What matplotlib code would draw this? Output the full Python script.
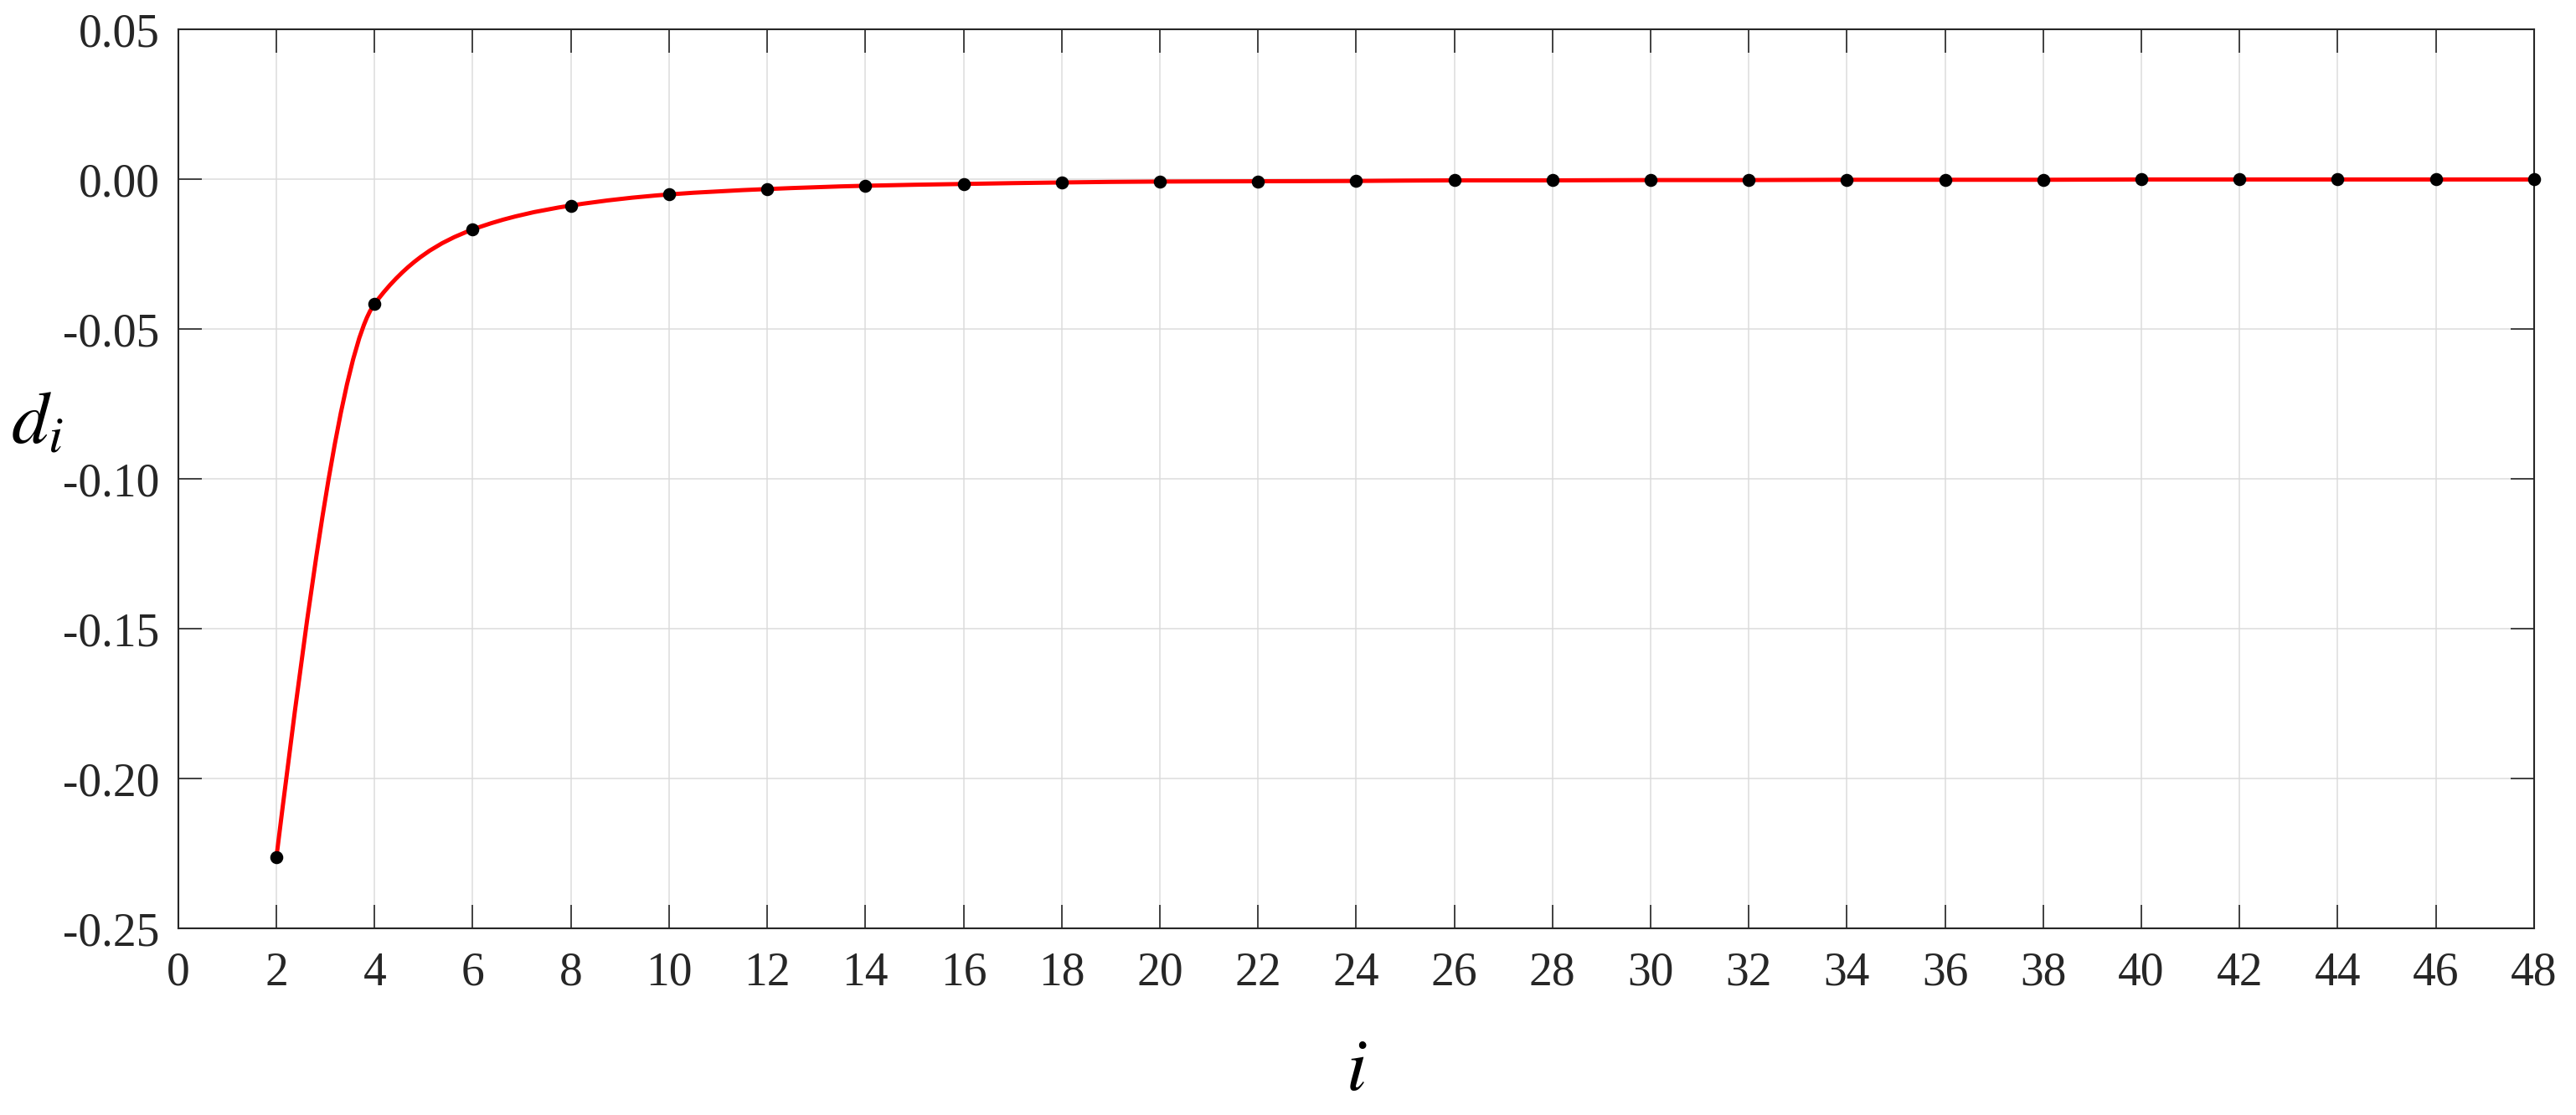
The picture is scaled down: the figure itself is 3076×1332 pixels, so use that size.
import numpy as np
import matplotlib
matplotlib.use('Agg')
import matplotlib.pyplot as plt
from matplotlib.path import Path
from matplotlib.patches import PathPatch
from matplotlib.ticker import FormatStrFormatter

# values
i_vals = [2, 4, 6, 8, 10, 12, 14, 16, 18, 20, 22, 24,
          26, 28, 30, 32, 34, 36, 38, 40, 42, 44, 46, 48]
d_vals = [-0.2263, -0.0416, -0.0168, -0.0088, -0.0051, -0.0033, -0.0022, -0.0016,
          -0.0011, -0.0008, -0.0007, -0.0006, -0.0004, -0.0004, -0.0003, -0.0003,
          -0.0002, -0.0002, -0.0002, -0.0001, -0.0001, -0.0001, -0.0001, -0.0001]
x_ticks = list(range(0, 49, 2))
y_ticks = [-0.25, -0.20, -0.15, -0.10, -0.05, 0.00, 0.05]

plt.rcParams['font.family'] = ['Liberation Serif', 'DejaVu Serif']
plt.rcParams['mathtext.fontset'] = 'stix'

txt_col = '#262626'


def smooth_path(x, y):
    # monotone cubic (pchip-like) drawn as bezier segments through the data points
    x = np.asarray(x, float)
    y = np.asarray(y, float)
    h = np.diff(x)
    dl = np.diff(y) / h
    m = np.zeros_like(y)
    for k in range(1, len(x) - 1):
        if dl[k - 1] * dl[k] > 0:
            w1 = 2 * h[k] + h[k - 1]
            w2 = h[k] + 2 * h[k - 1]
            m[k] = (w1 + w2) / (w1 / dl[k - 1] + w2 / dl[k])
    m[0] = ((2 * h[0] + h[1]) * dl[0] - h[0] * dl[1]) / (h[0] + h[1])
    m[-1] = dl[-1]
    verts = [(x[0], y[0])]
    codes = [Path.MOVETO]
    for k in range(len(x) - 1):
        verts += [(x[k] + h[k] / 3, y[k] + m[k] * h[k] / 3),
                  (x[k + 1] - h[k] / 3, y[k + 1] - m[k + 1] * h[k] / 3),
                  (x[k + 1], y[k + 1])]
        codes += [Path.CURVE4] * 3
    return Path(verts, codes)


fig, ax = plt.subplots(figsize=(15.38, 6.66), dpi=200)
fig.subplots_adjust(left=0.0692, right=0.9837, top=0.9737, bottom=0.1674)

ax.add_patch(PathPatch(smooth_path(i_vals, d_vals), facecolor='none',
                       edgecolor='#ff0000', lw=1.8, zorder=3))
ax.plot(i_vals, d_vals, 'o', color='k', ms=4.6, zorder=4, clip_on=False)

ax.set_xlim(0, 48)
ax.set_ylim(-0.25, 0.05)
ax.set_xticks(x_ticks)
ax.set_yticks(y_ticks)
ax.yaxis.set_major_formatter(FormatStrFormatter('%.2f'))

ax.grid(True, color='#dcdcdc', lw=0.55, zorder=0)
ax.set_axisbelow(True)
for s in ax.spines.values():
    s.set_linewidth(0.75)
    s.set_color(txt_col)

ax.tick_params(which='both', direction='in', top=True, right=True,
               length=10, width=0.6, color=txt_col, labelcolor=txt_col,
               labelsize=20)
ax.tick_params(axis='y', pad=8)
ax.tick_params(axis='x', pad=10)

ax.set_xlabel(r'$i$', fontsize=32, color='k')
ax.xaxis.set_label_coords(0.5, -0.16)
ax.xaxis.label.set_va('center')
ax.set_ylabel(r'$d_i$', fontsize=32, color='k', rotation=0)
ax.yaxis.set_label_coords(-0.06, 0.56)
ax.yaxis.label.set_va('center')
ax.yaxis.label.set_ha('center')

fig.savefig('out.png', dpi=200)
